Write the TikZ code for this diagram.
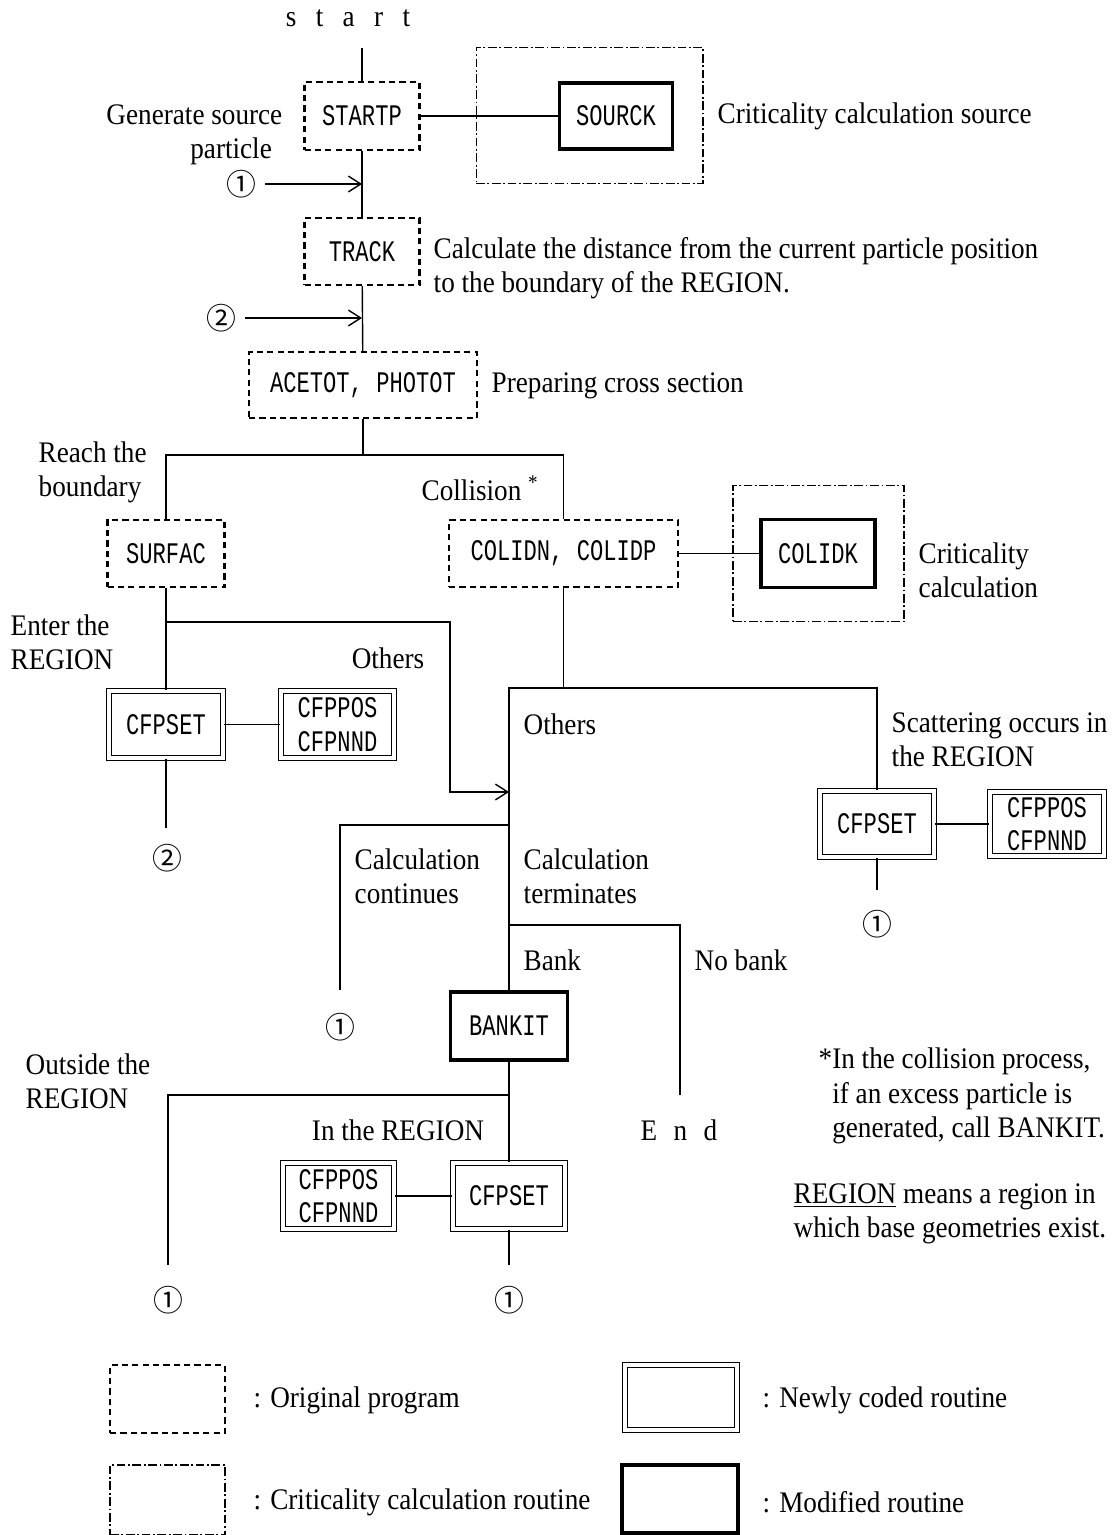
\documentclass[tikz,border=0pt]{standalone}
\usepackage{fontspec}
\setmainfont[FakeStretch=0.91]{Liberation Serif}
\newfontfamily\boxfont[FakeStretch=0.74]{Liberation Mono}
\newfontfamily\circfont{Noto Sans CJK JP}
\usetikzlibrary{arrows.meta}

\begin{document}
\begin{tikzpicture}[x=0.02cm, y=-0.02cm, line width=0.8pt,
  font=\fontsize{17}{19.5}\selectfont,
  txt/.style={inner sep=0pt, align=left},
  num/.style={inner sep=0pt, font=\fontsize{17}{17}\circfont},
  sz/.style 2 args={minimum width=#1, minimum height=#2},
  orig/.style={draw, line width=1.4pt, dash pattern=on 3.5pt off 2.4pt,
    inner sep=0pt, font=\fontsize{17}{19}\boxfont},
  crit/.style={draw, line width=0.6pt, dash pattern=on 5pt off 1.5pt on 1pt off 1.5pt,
    inner sep=0pt},
  newr/.style={draw, double, double distance=2.2pt, line width=0.7pt,
    inner sep=0pt, align=center, font=\fontsize{17}{19}\boxfont},
  modr/.style={draw, line width=1.8pt, inner sep=0pt, font=\fontsize{17}{19}\boxfont},
  flow/.style={-{Straight Barb[length=7pt, width=9pt]}}]
  \useasboundingbox (0,0) rectangle (1115,1535);
  % 틀(계산 루틴)
  \node[crit, sz={4.54cm}{2.72cm}] (srcframe) at (589.5,115.5) {};
  \node[crit, sz={3.42cm}{2.72cm}] (colframe) at (818.5,553.5) {};
  % 상자
  \node[orig, sz={2.3cm}{1.36cm}] (startp) at (362,116) {STARTP};
  \node[modr, sz={2.26cm}{1.32cm}] (sourck) at (616,116) {SOURCK};
  \node[orig, sz={2.3cm}{1.34cm}] (track) at (362,251.5) {TRACK};
  \node[orig, sz={4.56cm}{1.32cm}] (acetot) at (363,385) {ACETOT, PHOTOT};
  \node[orig, sz={2.34cm}{1.34cm}] (surfac) at (166,553.5) {SURFAC};
  \node[orig, sz={4.58cm}{1.34cm}] (colidn) at (563.5,553.5) {COLIDN, COLIDP};
  \node[modr, sz={2.28cm}{1.36cm}] (colidk) at (818,553.5) {COLIDK};
  \node[newr, sz={2.28cm}{1.34cm}] (cfpL) at (166,724.5) {CFPSET};
  \node[newr, sz={2.26cm}{1.34cm}] (posL) at (337.5,724.5) {CFPPOS\\CFPNND};
  \node[newr, sz={2.28cm}{1.32cm}] (cfpR) at (877,824) {CFPSET};
  \node[newr, sz={2.28cm}{1.28cm}] (posR) at (1047,824) {CFPPOS\\CFPNND};
  \node[modr, sz={2.34cm}{1.36cm}] (bankit) at (509,1026) {BANKIT};
  \node[newr, sz={2.24cm}{1.32cm}] (cfpB) at (509,1196) {CFPSET};
  \node[newr, sz={2.22cm}{1.32cm}] (posB) at (338.5,1196) {CFPPOS\\CFPNND};
  % 글
  \node[txt] (start) at (348,18) {s\hspace{0.65em}t\hspace{0.65em}a\hspace{0.65em}r\hspace{0.65em}t};
  \node[txt, align=right, anchor=east] (gen) at (283,135) {Generate source\\particle\hspace*{0.35em}};
  \node[txt, anchor=west] (critsrc) at (717,116) {Criticality calculation source};
  \node[txt, anchor=west] (dist) at (433,268) {Calculate the distance from the current particle position\\to the boundary of the REGION.};
  \node[txt, anchor=west] (prep) at (491,386) {Preparing cross section};
  \node[txt, anchor=west] (reach) at (38,472) {Reach the\\boundary};
  \node[txt, anchor=west] (coll) at (421,488) {Collision \textsuperscript{*}};
  \node[txt, anchor=west] (critcol) at (918,570) {Criticality\\calculation};
  \node[txt, anchor=west] (enter) at (10,642) {Enter the\\REGION};
  \node[txt] (othL) at (388,658) {Others};
  \node[txt, anchor=west] (othR) at (523,724) {Others};
  \node[txt, anchor=west] (scat) at (891,740) {Scattering occurs in\\the REGION};
  \node[txt, anchor=west] (cont) at (354,876) {Calculation\\continues};
  \node[txt, anchor=west] (term) at (523,876) {Calculation\\terminates};
  \node[txt, anchor=west] (bank) at (523,960) {Bank};
  \node[txt, anchor=west] (nobank) at (694,960) {No bank};
  \node[txt, anchor=west] (outside) at (25,1081) {Outside the\\REGION};
  \node[txt] (inreg) at (398,1130) {In the REGION};
  \node[txt] (endlbl) at (679,1130) {E\hspace{0.55em}n\hspace{0.55em}d};
  \node[txt, anchor=west] (note) at (818,1096)
    {*In the collision process,\\\phantom{*}if an excess particle is\\\phantom{*}generated, call BANKIT.};
  \node[txt, anchor=west] (regnote) at (793,1214)
    {\underline{REGION} means a region in\\which base geometries exist.};
  % 번호
  \node[num] (c1a) at (241,184) {①};
  \node[num] (c2a) at (221,318) {②};
  \node[num] (c2b) at (167,858) {②};
  \node[num] (c1b) at (877,924) {①};
  \node[num] (c1c) at (340,1027) {①};
  \node[num] (c1d) at (168,1300) {①};
  \node[num] (c1e) at (509,1300) {①};
  % 잇는 선
  \coordinate (top) at (362,48);
  \coordinate (split) at (363,455);
  \coordinate (enterpt) at (166,622);
  \coordinate (merge) at (509,792);
  \coordinate (c2bend) at (166,828);
  \coordinate (fork) at (509,688);
  \coordinate (rend) at (877,890);
  \coordinate (contpt) at (509,825);
  \coordinate (contend) at (340,990);
  \coordinate (bankpt) at (509,925);
  \coordinate (endtop) at (680,1095);
  \coordinate (outpt) at (509,1095);
  \coordinate (outend) at (168,1265);
  \coordinate (inend) at (509,1265);
  \draw (top) -- (startp);
  \draw (startp) -- (sourck);
  \draw (startp) -- (track);
  \draw[flow, shorten <=5pt] (c1a.east) -- (c1a -| startp.south);
  \draw (track) -- (acetot);
  \draw[flow, shorten <=5pt] (c2a.east) -- (c2a -| track.south);
  \draw (acetot) -- (split);
  \draw (surfac) |- (split) -| (colidn);
  \draw (colidn) -- (colidk);
  \draw (surfac) -- (cfpL);
  \draw (cfpL) -- (posL);
  \draw (cfpL) -- (c2bend);
  \draw[flow] (enterpt) -| (450,792) -- (merge);
  \draw (colidn) -- (colidn |- fork);
  \draw (cfpR) |- (fork) -- (bankit);
  \draw (cfpR) -- (posR);
  \draw (cfpR) -- (rend);
  \draw (contpt) -| (contend);
  \draw (bankpt) -| (endtop);
  \draw (bankit) -- (cfpB);
  \draw (outpt) -| (outend);
  \draw (posB) -- (cfpB);
  \draw (cfpB) -- (inend);
  % 범례
  \node[orig, sz={2.3cm}{1.36cm}] (legorig) at (167.5,1399) {};
  \node[crit, sz={2.3cm}{1.4cm}] (legcrit) at (167.5,1500) {};
  \node[newr, sz={2.24cm}{1.3cm}] (legnew) at (681,1397.5) {};
  \node[modr, sz={2.32cm}{1.36cm}] (legmod) at (680,1499) {};
  \node[txt, anchor=west] (legorigtxt) at (253,1400) {: Original program};
  \node[txt, anchor=west] (legcrittxt) at (253,1502) {: Criticality calculation routine};
  \node[txt, anchor=west] (legnewtxt) at (762,1400) {: Newly coded routine};
  \node[txt, anchor=west] (legmodtxt) at (762,1502) {: Modified routine};
\end{tikzpicture}
\end{document}
